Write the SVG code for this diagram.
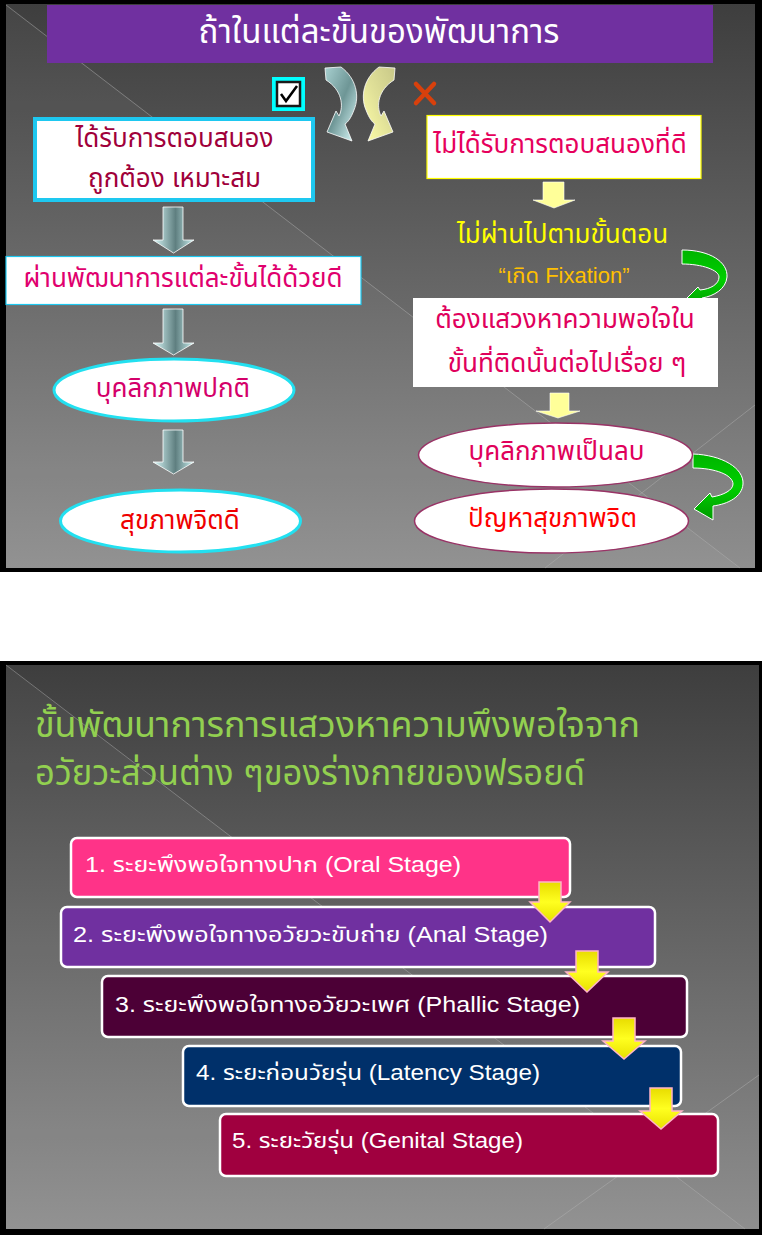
<svg xmlns="http://www.w3.org/2000/svg" width="762" height="1235" viewBox="0 0 762 1235">
<style>
text{font-family:'Liberation Sans','Noto Sans Thai','Noto Sans',sans-serif;}
.t{text-anchor:middle;font-size:26px;}
.st{font-size:22px;fill:#ffffff;}
.bgline{stroke:#b4b4b4;stroke-opacity:0.45;stroke-width:1;fill:none;}
.stage{stroke:#ffffff;stroke-width:2.5;}
.ya{fill:url(#yellowStage);stroke:#ffb4c8;stroke-width:1.5;}
.ta{fill:url(#tealArrow);stroke:#ffffff;stroke-width:0.8;}
.la{fill:#ffff99;stroke:#ffffff;stroke-width:0.6;}
.ga{fill:url(#greenArrow);stroke:#ffffff;stroke-width:1;}
</style>
<defs>
<linearGradient id="bg" x1="0" y1="0" x2="0" y2="1">
<stop offset="0" stop-color="#3e3e3e"/>
<stop offset="1" stop-color="#8e8e8e"/>
</linearGradient>
<linearGradient id="tealArrow" x1="0" y1="0" x2="1" y2="0">
<stop offset="0" stop-color="#d8f8f8"/>
<stop offset="0.55" stop-color="#5f7f80"/>
<stop offset="1" stop-color="#c8eeee"/>
</linearGradient>
<linearGradient id="tealCurve" x1="0" y1="0" x2="1" y2="1">
<stop offset="0" stop-color="#a8d0d0"/>
<stop offset="0.5" stop-color="#6e9696"/>
<stop offset="1" stop-color="#e0ffff"/>
</linearGradient>
<linearGradient id="yellowCurve" x1="0" y1="0" x2="1" y2="1">
<stop offset="0" stop-color="#c8c888"/>
<stop offset="0.5" stop-color="#e0e098"/>
<stop offset="1" stop-color="#ffffa8"/>
</linearGradient>
<linearGradient id="greenArrow" x1="0" y1="0" x2="0" y2="1">
<stop offset="0" stop-color="#00b400"/>
<stop offset="0.5" stop-color="#00d000"/>
<stop offset="1" stop-color="#009a00"/>
</linearGradient>
<linearGradient id="yellowStage" x1="0" y1="0" x2="0" y2="1">
<stop offset="0" stop-color="#e8dc00"/>
<stop offset="0.5" stop-color="#ffff20"/>
<stop offset="1" stop-color="#e8e000"/>
</linearGradient>
</defs>

<!-- Slide 1 -->
<g id="slide1-bg">
<rect x="0" y="0" width="762" height="572" fill="#000000"/>
<rect x="6" y="4" width="749" height="564" fill="url(#bg)"/>
<polygon points="6,4 740,568 6,568" fill="#ffffff" fill-opacity="0.04"/>
<line class="bgline" x1="6" y1="5" x2="740" y2="568"/>
<line class="bgline" x1="755" y1="405" x2="545" y2="568"/>
</g>

<g id="title1">
<rect x="47" y="5" width="666" height="58" fill="#7030a0"/>
<text x="379" y="43" text-anchor="middle" font-size="33" fill="#ffffff">ถ้าในแต่ละขั้นของพัฒนาการ</text>
</g>

<g id="checkbox">
<rect x="272" y="77" width="33" height="34" fill="#00ffff"/>
<rect x="277" y="82" width="23" height="24" fill="#ffffff" stroke="#1a1a1a" stroke-width="2.5"/>
<path d="M281 94 L286 101 L297 86" fill="none" stroke="#000000" stroke-width="2.5"/>
</g>

<g id="cross">
<path d="M416 84 L434 103 M434 84 L416 103" stroke="#d8400c" stroke-width="4.5" stroke-linecap="round"/>
</g>

<g id="connectors">
<path d="M325 68 L341 67 C356 78 360 96 354 110 C351 118 348 122 345 124 L352 141 L327 132 L336 111 L339 116 C344 106 342 90 326 80 Z" fill="url(#tealCurve)" stroke="#ffffff" stroke-width="0.8"/>
<path transform="translate(720,0) scale(-1,1)" d="M325 68 L341 67 C356 78 360 96 354 110 C351 118 348 122 345 124 L352 141 L327 132 L336 111 L339 116 C344 106 342 90 326 80 Z" fill="url(#yellowCurve)" stroke="#ffffff" stroke-width="0.8"/>
<polygon class="ta" points="163,207 183,207 183,240 194,240 173.5,253 153,240 163,240"/>
<polygon class="ta" points="163,309 183,309 183,343 194,343 173.5,355 153,343 163,343"/>
<polygon class="ta" points="163,430 183,430 183,462 194,462 173.5,474 153,462 163,462"/>
<polygon class="la" points="543,182 564,182 564,200 575,200 554,208 533,200 543,200"/>
<polygon class="la" points="550,393 569,393 569,411 580,411 558,418 536,411 550,411"/>
<path class="ga" d="M682 250 C710 250 728 262 727 277 C726 289 714 296 702 298 L703 309 L683 302 L698 287 L700 290 C711 289 719 284 719 277 C719 270 702 264 682 264 Z"/>
<path class="ga" d="M693 454 C722 455 744 468 743 484 C742 497 728 504 713 506 L713 520 L694 509 L710 493 L712 497 C724 495 733 490 733 484 C733 475 715 468 693 468 Z"/>
</g>

<g id="node-good-response">
<rect x="35" y="119" width="278" height="81" fill="#ffffff" stroke="#1ec8f0" stroke-width="4"/>
<text class="t" x="174.5" y="147" fill="#a0003a">ได้รับการตอบสนอง</text>
<text class="t" x="174.5" y="187" fill="#a0003a">ถูกต้อง เหมาะสม</text>
</g>

<g id="node-pass">
<rect x="6" y="256.5" width="355" height="48" fill="#ffffff" stroke="#1ec8f0" stroke-width="1.2"/>
<text class="t" x="183" y="287" fill="#e0006e">ผ่านพัฒนาการแต่ละขั้นได้ด้วยดี</text>
</g>

<g id="node-normal-personality">
<ellipse cx="174" cy="390" rx="120" ry="31" fill="#ffffff" stroke="#22e0f0" stroke-width="3"/>
<text class="t" x="173" y="397" fill="#d4006a">บุคลิกภาพปกติ</text>
</g>

<g id="node-good-health">
<ellipse cx="180.5" cy="521" rx="120" ry="31" fill="#ffffff" stroke="#22e0f0" stroke-width="3"/>
<text class="t" x="180" y="529" fill="#ee0000">สุขภาพจิตดี</text>
</g>

<g id="node-bad-response">
<rect x="427" y="115.5" width="274" height="63" fill="#ffffff" stroke="#ffff00" stroke-width="1.2"/>
<text class="t" x="560" y="153" fill="#e6005c">ไม่ได้รับการตอบสนองที่ดี</text>
</g>

<g id="node-not-pass">
<text class="t" x="562.5" y="243" fill="#ffff00" font-size="24">ไม่ผ่านไปตามขั้นตอน</text>
<text class="t" x="564" y="283" fill="#ffc000" style="font-size:22px">“เกิด Fixation”</text>
</g>

<g id="node-seek">
<rect x="413" y="298" width="305" height="89" fill="#ffffff"/>
<text class="t" x="565" y="328" fill="#e0005c">ต้องแสวงหาความพอใจใน</text>
<text class="t" x="567" y="372" fill="#e0005c">ขั้นที่ติดนั้นต่อไปเรื่อย ๆ</text>
</g>

<g id="node-negative-personality">
<ellipse cx="555.5" cy="455" rx="137" ry="32" fill="#ffffff" stroke="#993366" stroke-width="1.5"/>
<text class="t" x="556.5" y="460" fill="#e0005a">บุคลิกภาพเป็นลบ</text>
</g>

<g id="node-mental-problem">
<ellipse cx="551.5" cy="521" rx="137" ry="32" fill="#ffffff" stroke="#993366" stroke-width="1.5"/>
<text class="t" x="552.5" y="527" fill="#ff0000">ปัญหาสุขภาพจิต</text>
</g>

<!-- Slide 2 -->
<g id="slide2-bg">
<rect x="0" y="661" width="762" height="574" fill="#000000"/>
<rect x="6" y="665" width="753" height="564" fill="url(#bg)"/>
<polygon points="6,665 745,1229 6,1229" fill="#ffffff" fill-opacity="0.04"/>
<line class="bgline" x1="6" y1="665" x2="745" y2="1229"/>
<line class="bgline" x1="759" y1="1075" x2="544" y2="1229"/>
</g>

<g id="title2">
<text x="35" y="737" font-size="35" fill="#92d050" textLength="605" lengthAdjust="spacingAndGlyphs">ขั้นพัฒนาการการแสวงหาความพึงพอใจจาก</text>
<text x="35" y="785" font-size="35" fill="#92d050" textLength="550" lengthAdjust="spacingAndGlyphs">อวัยวะส่วนต่าง ๆของร่างกายของฟรอยด์</text>
</g>

<g id="stage1">
<rect class="stage" x="71" y="838" width="499" height="59" rx="6" fill="#ff3388"/>
<text class="st" x="85" y="872" textLength="376" lengthAdjust="spacingAndGlyphs">1. ระยะพึงพอใจทางปาก (Oral Stage)</text>
</g>
<g id="stage2">
<rect class="stage" x="61" y="907" width="594" height="60" rx="6" fill="#7030a0"/>
<text class="st" x="73" y="942" textLength="475" lengthAdjust="spacingAndGlyphs">2. ระยะพึงพอใจทางอวัยวะขับถ่าย (Anal Stage)</text>
</g>
<g id="stage3">
<rect class="stage" x="102" y="976" width="585" height="61" rx="6" fill="#4c0036"/>
<text class="st" x="115" y="1012" textLength="465" lengthAdjust="spacingAndGlyphs">3. ระยะพึงพอใจทางอวัยวะเพศ (Phallic Stage)</text>
</g>
<g id="stage4">
<rect class="stage" x="183" y="1046" width="498" height="60" rx="6" fill="#00306a"/>
<text class="st" x="196" y="1080" textLength="344" lengthAdjust="spacingAndGlyphs">4. ระยะก่อนวัยรุ่น (Latency Stage)</text>
</g>
<g id="stage5">
<rect class="stage" x="220" y="1114" width="498" height="62" rx="6" fill="#a0003f"/>
<text class="st" x="232" y="1148" textLength="291" lengthAdjust="spacingAndGlyphs">5. ระยะวัยรุ่น (Genital Stage)</text>
</g>

<g id="stage-connectors">
<polygon class="ya" points="539,882 561,882 561,902 570,902 550,922 530,902 539,902"/>
<polygon class="ya" points="576,951 598,951 598,972 608,972 587,992 566,972 576,972"/>
<polygon class="ya" points="613,1018 635,1018 635,1041 645,1041 624,1059 603,1041 613,1041"/>
<polygon class="ya" points="650,1088 672,1088 672,1111 682,1111 661,1129 640,1111 650,1111"/>
</g>
</svg>
